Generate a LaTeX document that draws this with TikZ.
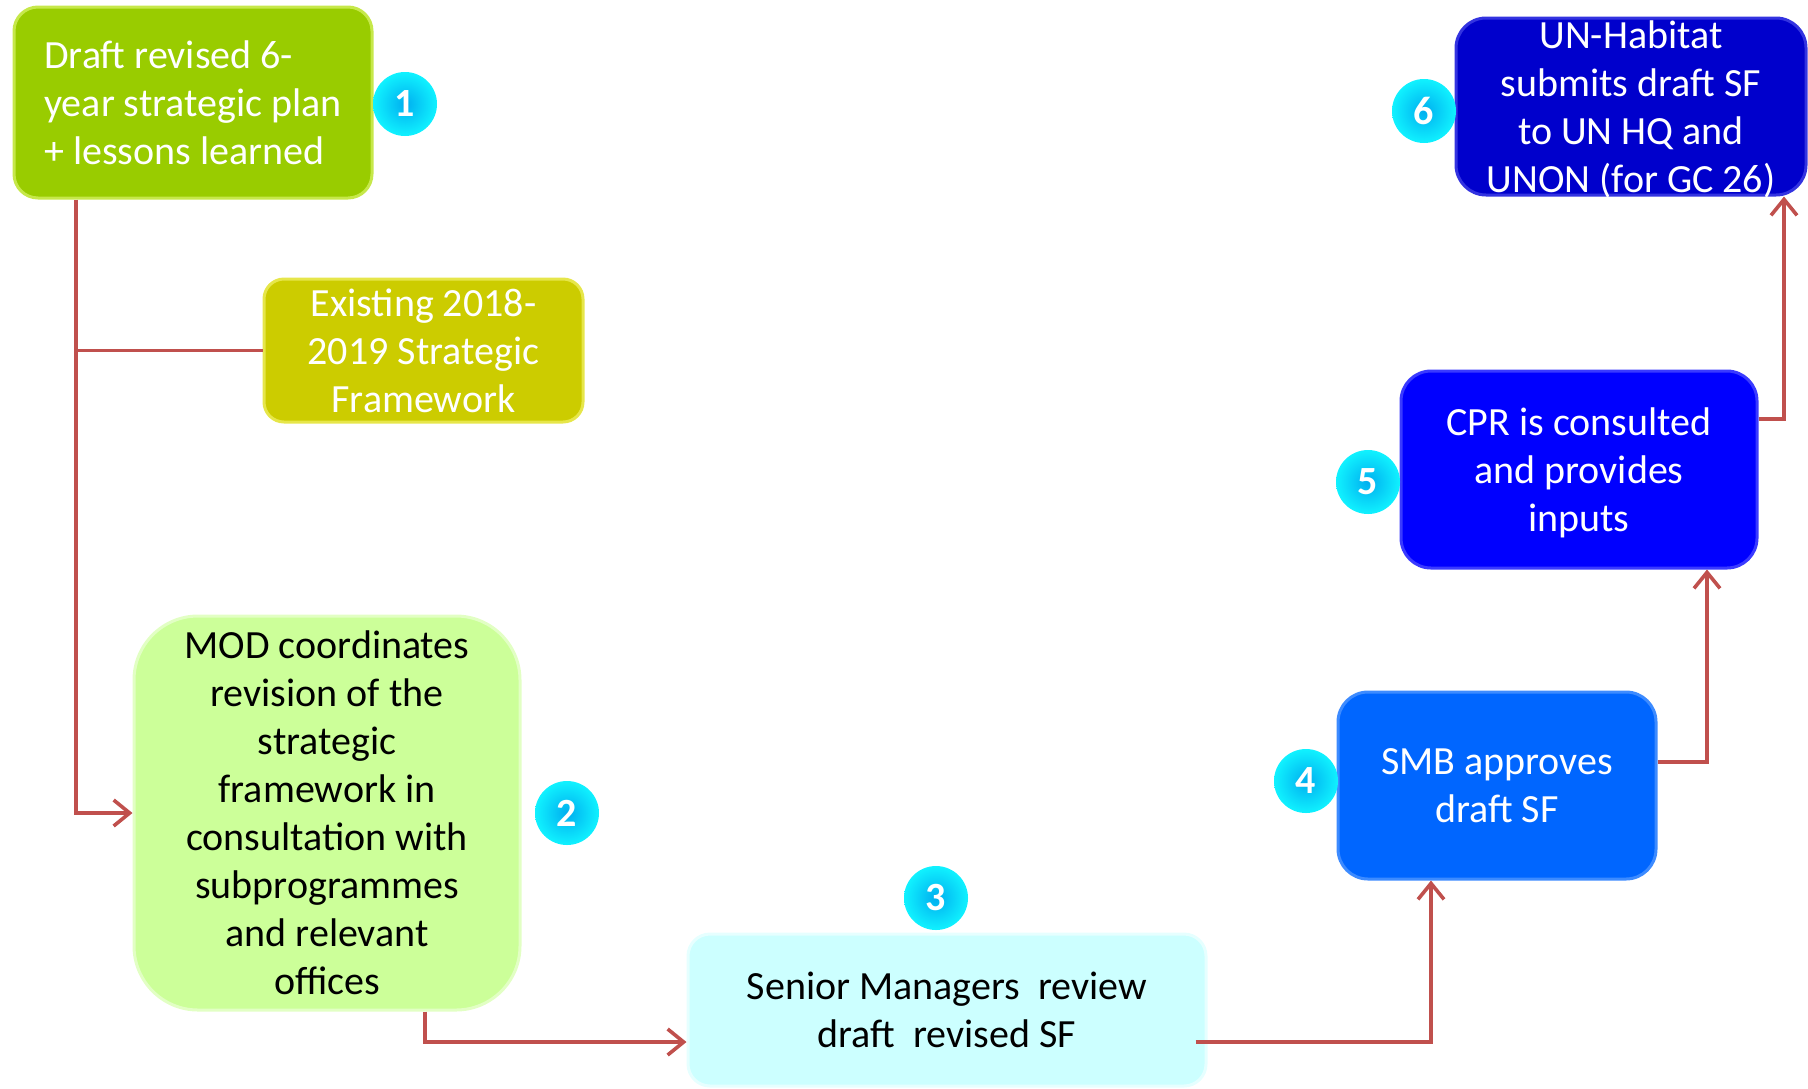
\documentclass[tikz,border=0pt]{standalone}
\usepackage{fontspec}
\setmainfont{Carlito}
\usetikzlibrary{arrows.meta,positioning,calc}
\definecolor{cgreen}{HTML}{99CC00}
\definecolor{cgreenE}{HTML}{C6E84A}
\definecolor{colive}{HTML}{CCCC00}
\definecolor{coliveE}{HTML}{E6E64A}
\definecolor{clgreen}{HTML}{CCFF99}
\definecolor{clgreenE}{HTML}{E2FFC4}
\definecolor{ccyan}{HTML}{CCFFFF}
\definecolor{ccyanE}{HTML}{E6FFFF}
\definecolor{cblue4}{HTML}{0066FF}
\definecolor{cblue4E}{HTML}{3D8BFF}
\definecolor{cblue5}{HTML}{0000FF}
\definecolor{cblue5E}{HTML}{3A3AFF}
\definecolor{cblue6}{HTML}{0000CC}
\definecolor{cblue6E}{HTML}{3333E0}
\definecolor{conn}{HTML}{C0504D}
\definecolor{bin}{HTML}{00AEEF}
\definecolor{bout}{HTML}{10F2FF}
\tikzset{
  x=0.5pt, y=-0.5pt,
  boxnode/.style={rounded corners=#1, line width=1.5pt, inner sep=0pt, align=center,
    font=\fontsize{20}{24}\selectfont},
  boxnode/.default=15pt,
  boxtext/.style={inner sep=0pt, align=center, font=\fontsize{20}{24}\selectfont},
  badge/.style={circle, minimum size=32pt, inner sep=0pt, text=white,
    inner color=bin, outer color=bout, font=\fontsize{20}{24}\selectfont\bfseries},
  connline/.style={draw=conn, line width=1.8pt},
  connarrow/.style={connline, -{Straight Barb[length=8pt,width=13pt,line width=1.8pt]}},
}
\begin{document}
\begin{tikzpicture}
\useasboundingbox (0,0) rectangle (1808,1088);

% boxes
\node[boxnode=12pt, fill=cgreen, draw=cgreenE, text=white, align=left,
      minimum width=179pt, minimum height=95.5pt] (b1) at (193,102.5)
  {Draft revised 6-\\year strategic plan\\+ lessons learned};
\node[boxnode=10pt, fill=colive, draw=coliveE, text=white,
      minimum width=159.5pt, minimum height=71.5pt] (ex) at (423.5,350.5)
  {Existing 2018-\\2019 Strategic\\Framework};
\node[boxnode=32pt, fill=clgreen, draw=clgreenE, text=black,
      minimum width=193pt, minimum height=197pt] (b2) at (327,813)
  {MOD coordinates\\revision of the\\strategic\\framework in\\consultation with\\subprogrammes\\and relevant\\offices};
\node[boxnode=11pt, fill=ccyan, draw=ccyanE, text=black,
      minimum width=259pt, minimum height=76pt] (b3) at (947,1010)
  {Senior Managers\ \ review\\draft\ \ revised SF};
\node[boxnode=15pt, fill=cblue4, draw=cblue4E, text=white,
      minimum width=159pt, minimum height=93.5pt] (b4) at (1497,785.5)
  {SMB approves\\draft SF};
\node[boxnode=15pt, fill=cblue5, draw=cblue5E,
      minimum width=178pt, minimum height=98.5pt] (b5) at (1579,469.5) {};
\node[boxtext, text=white] (b5t) at ([yshift=-1.5pt]b5.center)
  {CPR is consulted\\and provides\\inputs};
\node[boxnode=15pt, fill=cblue6, draw=cblue6E,
      minimum width=175pt, minimum height=88.5pt] (b6) at (1631,106.5) {};
\node[boxtext, text=white] (b6t) at ([yshift=-1.5pt]b6.center)
  {UN-Habitat\\submits draft SF\\to UN HQ and\\UNON (for GC 26)};

% badges
\node[badge] (n1) at (405,104) {1};
\node[badge] (n2) at (567,813) {2};
\node[badge] (n3) at (936,898) {3};
\node[badge] (n4) at (1306,781) {4};
\node[badge] (n5) at (1368,482) {5};
\node[badge] (n6) at (1424,111) {6};

% helper coordinates
\coordinate (v1) at (76,0);
\coordinate (v2) at (425,0);
\coordinate (h3) at (0,1042);
\coordinate (v4) at (1431,0);
\coordinate (h5) at (0,762);
\coordinate (v6) at (1707,0);
\coordinate (h7) at (0,419);
\coordinate (v8) at (1784,0);

% connectors
\draw[connarrow] (b1.south -| v1) |- (b2.west);
\draw[connline] (ex.west) -- (ex.west -| v1);
\draw[connarrow] (b2.south -| v2) |- (b3.west |- h3);
\draw[connarrow] ([xshift=-6pt]b3.east |- h3) -| (b4.south -| v4);
\draw[connarrow] (b4.east |- h5) -| (b5.south -| v6);
\draw[connarrow] (b5.east |- h7) -| (b6.south -| v8);
\end{tikzpicture}
\end{document}
